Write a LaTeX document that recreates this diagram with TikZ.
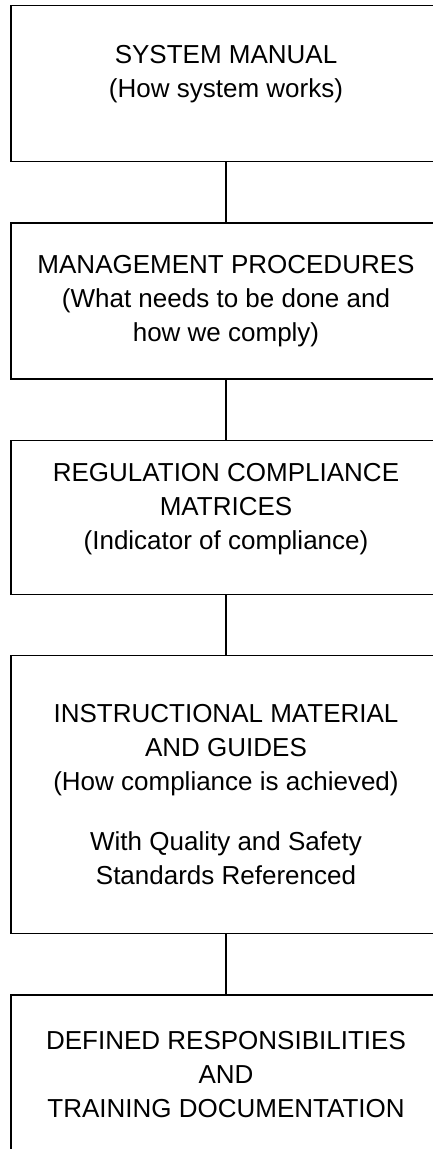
\documentclass[tikz,border=0pt]{standalone}
\usepackage{fontspec}
\setmainfont{Liberation Sans}
\usetikzlibrary{positioning}
\tikzstyle{block} = [rectangle, draw=black, line width=1.3pt, minimum width=430pt, text centered, align=center, font=\fontsize{26}{34}\selectfont]
\tikzstyle{connect} = [line width=1.1pt,-]

\begin{document}
\begin{tikzpicture}[x=1pt, y=1pt, node distance=60pt]
            \clip (0,0) rectangle (433,-1149);
            \node (sysman) [block, minimum height=156pt, text depth=25pt, anchor=north] at (226,-5) {SYSTEM MANUAL\\(How system works)};
            \node (mgmtproc) [block, minimum height=156pt, below=of sysman] {MANAGEMENT PROCEDURES\\(What needs to be done and\\how we comply)};
            \node (regmatrix) [block, minimum height=154pt, text depth=22pt, below=of mgmtproc] {REGULATION COMPLIANCE\\MATRICES\\(Indicator of compliance)};
            \node (instrmat) [block, minimum height=278pt, below=of regmatrix] {INSTRUCTIONAL MATERIAL\\AND GUIDES\\(How compliance is achieved)\\[26pt]With Quality and Safety\\Standards Referenced};
            \node (training) [block, minimum height=160pt, below=of instrmat] {DEFINED RESPONSIBILITIES\\AND\\TRAINING DOCUMENTATION};

            \draw [connect] (sysman) -- (mgmtproc);
            \draw [connect] (mgmtproc) -- (regmatrix);
            \draw [connect] (regmatrix) -- (instrmat);
            \draw [connect] (instrmat) -- (training);

        \end{tikzpicture}
\end{document}
